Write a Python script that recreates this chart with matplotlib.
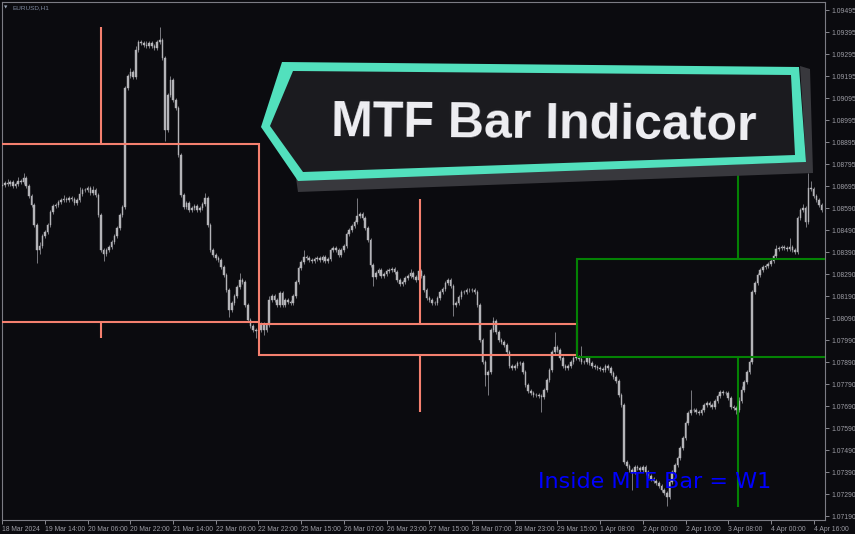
import matplotlib.pyplot as plt
from matplotlib.patches import Polygon, Rectangle

symbol = "EURUSD,H1"

# H1 candles: close of every bar, open = previous close
first_open = 1.08695
closes = [
    1.08700, 1.08709, 1.08704, 1.08713, 1.08695, 1.08704, 1.08718, 1.08713, 1.08732, 1.08695,
    1.08650, 1.08609, 1.08518, 1.08404, 1.08422, 1.08468, 1.08486, 1.08518, 1.08577, 1.08604,
    1.08609, 1.08622, 1.08631, 1.08636, 1.08631, 1.08641, 1.08636, 1.08618, 1.08631, 1.08659,
    1.08677, 1.08677, 1.08686, 1.08663, 1.08677, 1.08654, 1.08563, 1.08404, 1.08386, 1.08404,
    1.08418, 1.08441, 1.08468, 1.08504, 1.08563, 1.08600, 1.09141, 1.09195, 1.09213, 1.09190,
    1.09313, 1.09350, 1.09345, 1.09336, 1.09331, 1.09345, 1.09331, 1.09322, 1.09350, 1.09359,
    1.09277, 1.08950, 1.09109, 1.09177, 1.09086, 1.09050, 1.08836, 1.08654, 1.08600, 1.08618,
    1.08586, 1.08595, 1.08604, 1.08586, 1.08595, 1.08613, 1.08641, 1.08518, 1.08404, 1.08381,
    1.08368, 1.08359, 1.08327, 1.08291, 1.08222, 1.08131, 1.08163, 1.08195, 1.08236, 1.08268,
    1.08259, 1.08154, 1.08086, 1.08059, 1.08040, 1.08036, 1.08040, 1.08068, 1.08040, 1.08063,
    1.08177, 1.08195, 1.08177, 1.08154, 1.08209, 1.08154, 1.08177, 1.08168, 1.08163, 1.08195,
    1.08259, 1.08322, 1.08350, 1.08372, 1.08368, 1.08359, 1.08354, 1.08363, 1.08368, 1.08359,
    1.08372, 1.08354, 1.08363, 1.08404, 1.08413, 1.08404, 1.08381, 1.08404, 1.08422, 1.08477,
    1.08495, 1.08513, 1.08531, 1.08559, 1.08568, 1.08549, 1.08504, 1.08450, 1.08336, 1.08281,
    1.08300, 1.08313, 1.08286, 1.08295, 1.08309, 1.08313, 1.08318, 1.08304, 1.08268, 1.08249,
    1.08259, 1.08277, 1.08286, 1.08300, 1.08281, 1.08268, 1.08309, 1.08286, 1.08222, 1.08186,
    1.08177, 1.08163, 1.08163, 1.08186, 1.08213, 1.08227, 1.08254, 1.08268, 1.08240, 1.08154,
    1.08163, 1.08191, 1.08213, 1.08213, 1.08222, 1.08222, 1.08222, 1.08213, 1.08154, 1.07995,
    1.07895, 1.07836, 1.07850, 1.08040, 1.08081, 1.08031, 1.07995, 1.07986, 1.07972, 1.07941,
    1.07877, 1.07868, 1.07877, 1.07891, 1.07891, 1.07850, 1.07791, 1.07763, 1.07754, 1.07745,
    1.07745, 1.07741, 1.07736, 1.07768, 1.07813, 1.07858, 1.07941, 1.07963, 1.07950, 1.07913,
    1.07877, 1.07868, 1.07877, 1.07895, 1.07913, 1.07918, 1.07909, 1.07895, 1.07895, 1.07913,
    1.07891, 1.07877, 1.07872, 1.07868, 1.07863, 1.07858, 1.07877, 1.07868, 1.07845, 1.07827,
    1.07809, 1.07745, 1.07700, 1.07441, 1.07422, 1.07404, 1.07395, 1.07418, 1.07413, 1.07404,
    1.07418, 1.07395, 1.07377, 1.07363, 1.07354, 1.07345, 1.07331, 1.07313, 1.07300, 1.07281,
    1.07350, 1.07395, 1.07427, 1.07459, 1.07504, 1.07550, 1.07618, 1.07663, 1.07677, 1.07677,
    1.07668, 1.07663, 1.07677, 1.07700, 1.07709, 1.07700, 1.07691, 1.07718, 1.07741, 1.07759,
    1.07754, 1.07754, 1.07731, 1.07691, 1.07686, 1.07677, 1.07718, 1.07768, 1.07804, 1.07850,
    1.07895, 1.08213, 1.08254, 1.08291, 1.08313, 1.08327, 1.08331, 1.08341, 1.08354, 1.08377,
    1.08409, 1.08413, 1.08418, 1.08413, 1.08409, 1.08418, 1.08404, 1.08395, 1.08549, 1.08586,
    1.08595, 1.08531, 1.08686, 1.08681, 1.08650, 1.08631, 1.08609, 1.08586,
]

# wicks in pips above / below the body
upper_wick = [
    1, 1, 2, 1, 1, 1, 2, 1, 2, 1, 1, 1, 1, 1, 2, 1, 1, 1, 1, 1,
    1, 1, 1, 2, 1, 1, 1, 1, 1, 3, 1, 1, 1, 1, 2, 1, 1, 1, 1, 1,
    1, 1, 1, 1, 1, 1, 1, 1, 2, 1, 2, 1, 1, 1, 2, 1, 1, 1, 1, 6,
    1, 1, 1, 2, 1, 1, 1, 1, 1, 1, 1, 1, 1, 1, 1, 1, 2, 1, 1, 1,
    1, 1, 1, 1, 1, 1, 1, 1, 1, 3, 1, 1, 1, 1, 1, 1, 1, 1, 1, 1,
    2, 1, 1, 1, 1, 1, 1, 1, 1, 1, 1, 1, 1, 3, 1, 1, 1, 1, 1, 1,
    1, 1, 1, 1, 1, 1, 1, 1, 1, 1, 1, 1, 1, 8, 1, 1, 1, 1, 1, 1,
    1, 1, 1, 1, 1, 1, 1, 1, 1, 1, 1, 1, 1, 2, 1, 1, 2, 1, 1, 1,
    1, 1, 1, 1, 1, 1, 1, 1, 1, 1, 1, 1, 1, 1, 1, 1, 1, 1, 1, 1,
    1, 1, 1, 1, 2, 1, 1, 1, 1, 1, 1, 1, 1, 1, 1, 1, 1, 1, 1, 1,
    1, 1, 1, 1, 1, 1, 1, 7, 1, 1, 1, 1, 1, 1, 1, 1, 1, 6, 1, 1,
    1, 1, 1, 1, 1, 1, 1, 1, 1, 1, 1, 1, 1, 1, 1, 1, 1, 1, 1, 1,
    1, 1, 1, 1, 1, 1, 1, 1, 1, 1, 1, 1, 1, 1, 1, 1, 1, 1, 9, 1,
    1, 1, 1, 1, 1, 1, 1, 1, 1, 1, 1, 1, 1, 1, 1, 1, 2, 2, 1, 1,
    1, 1, 1, 1, 1, 1, 1, 1, 1, 1, 2, 1, 1, 1, 1, 4, 1, 1, 1, 1,
    2, 1, 7, 3, 1, 1, 1, 1,
]
lower_wick = [
    1, 1, 1, 1, 1, 1, 1, 1, 1, 1, 1, 1, 1, 6, 2, 1, 1, 1, 1, 1,
    1, 1, 1, 1, 1, 1, 1, 1, 1, 1, 1, 1, 1, 1, 1, 1, 1, 1, 3, 1,
    1, 1, 1, 1, 1, 1, 1, 1, 1, 1, 1, 1, 1, 1, 1, 1, 1, 1, 1, 1,
    1, 5, 1, 1, 1, 1, 1, 1, 1, 1, 1, 1, 1, 1, 1, 1, 1, 1, 1, 1,
    1, 1, 1, 1, 1, 3, 1, 1, 1, 1, 1, 1, 1, 1, 1, 3, 1, 1, 2, 1,
    1, 1, 1, 1, 1, 1, 1, 1, 1, 1, 1, 1, 1, 1, 1, 1, 1, 1, 1, 1,
    1, 1, 1, 1, 1, 1, 1, 1, 1, 1, 1, 1, 1, 1, 1, 1, 1, 1, 1, 4,
    1, 1, 1, 1, 1, 1, 1, 1, 1, 1, 1, 1, 1, 1, 1, 1, 1, 1, 1, 1,
    1, 1, 1, 1, 1, 1, 1, 1, 1, 5, 1, 1, 1, 1, 1, 1, 1, 1, 1, 1,
    1, 5, 9, 1, 1, 1, 1, 1, 1, 1, 1, 1, 1, 1, 1, 1, 1, 1, 1, 1,
    1, 1, 7, 1, 1, 1, 1, 1, 1, 1, 1, 1, 1, 1, 1, 1, 1, 1, 1, 1,
    1, 1, 1, 1, 1, 1, 1, 1, 1, 1, 1, 1, 1, 1, 1, 1, 8, 1, 1, 1,
    1, 1, 1, 1, 1, 1, 1, 1, 1, 4, 1, 1, 1, 1, 1, 1, 1, 1, 1, 1,
    1, 1, 1, 1, 1, 1, 1, 1, 1, 1, 1, 1, 1, 1, 1, 2, 1, 1, 1, 1,
    1, 1, 1, 1, 1, 1, 1, 1, 1, 1, 1, 1, 1, 1, 1, 1, 1, 1, 1, 1,
    1, 2, 1, 1, 1, 1, 1, 1,
]

time_labels = ["18 Mar 2024", "19 Mar 14:00", "20 Mar 06:00", "20 Mar 22:00", "21 Mar 14:00",
               "22 Mar 06:00", "22 Mar 22:00", "25 Mar 15:00", "26 Mar 07:00", "26 Mar 23:00",
               "27 Mar 15:00", "28 Mar 07:00", "28 Mar 23:00", "29 Mar 15:00", "1 Apr 08:00",
               "2 Apr 00:00", "2 Apr 16:00", "3 Apr 08:00", "4 Apr 00:00", "4 Apr 16:00"]
price_labels = ["1.09495", "1.09395", "1.09295", "1.09195", "1.09095", "1.08995", "1.08895",
                "1.08795", "1.08695", "1.08590", "1.08490", "1.08390", "1.08290", "1.08190",
                "1.08090", "1.07990", "1.07890", "1.07790", "1.07690", "1.07590", "1.07490",
                "1.07390", "1.07290", "1.07190"]

# W1 bars drawn by the indicator (bar index of start / middle / end)
week_start = [-3, 96.2, 215.3]
week_mid = [37.1, 156.4, 275.5]
week_end = [96.2, 215.3, 340]
week_open = [1.08886, 1.08066, 1.07916]
week_close = [1.08077, 1.07928, 1.08363]
week_high = [1.09419, 1.08636, 1.08757]
week_low = [1.08006, 1.07669, 1.07237]

bg = "#0b0b0f"
fg = "#9c9ca4"
candle_col = "#b4b4b8"
wick_col = "#8c8c92"
bear_col = "#f5806f"
bull_col = "#048204"

fig = plt.figure(figsize=(8.55, 5.34), dpi=100, facecolor=bg)
ax = fig.add_axes([2 / 855, 14 / 534, 823 / 855, 518 / 534], facecolor=bg)

# candles
opens = [first_open] + closes[:-1]
xs = list(range(len(closes)))
highs = [max(o, c) + u * 0.0001 for o, c, u in zip(opens, closes, upper_wick)]
lows = [min(o, c) - d * 0.0001 for o, c, d in zip(opens, closes, lower_wick)]
ax.vlines(xs, lows, highs, color=wick_col, linewidth=0.6, zorder=2)
ax.bar(xs, [abs(c - o) for o, c in zip(opens, closes)], bottom=[min(o, c) for o, c in zip(opens, closes)],
       width=0.6, color=candle_col, edgecolor=candle_col, linewidth=0.3, zorder=3)

# MTF bars
for s, m, e, o, c, h, l in zip(week_start, week_mid, week_end, week_open, week_close, week_high, week_low):
    col = bull_col if c > o else bear_col
    top, bot = max(o, c), min(o, c)
    ax.add_patch(Rectangle((s, bot), e - s, top - bot, fill=False, edgecolor=col, linewidth=1.5, zorder=4))
    ax.plot([m, m], [top, h], color=col, linewidth=1.5, zorder=4, solid_capstyle="butt")
    ax.plot([m, m], [bot, l], color=col, linewidth=1.5, zorder=4, solid_capstyle="butt")

ax.text(0.651, 0.062, "Inside MTF Bar = W1", transform=ax.transAxes, color="#0000ff",
        fontsize=16, family="DejaVu Sans", va="baseline", ha="left", zorder=6)

ax.set_xlim(-0.1, 308.25)
ax.set_ylim(1.07177, 1.095314)

ax.yaxis.tick_right()
ax.set_yticks([1.09495 - 0.001 * k for k in range(len(price_labels))])
ax.set_yticklabels(price_labels)
ax.set_xticks([16 * k for k in range(len(time_labels))])
ax.set_xticklabels(time_labels, ha="left")
for lab in ax.get_xticklabels() + ax.get_yticklabels():
    lab.set_family("Liberation Sans")
ax.tick_params(axis="both", colors=fg, labelsize=4.9, length=3, width=0.6, pad=1.5)
for sp in ax.spines.values():
    sp.set_color("#7c7c84")
    sp.set_linewidth(0.8)

fig.text(4 / 855, 1 - 7.5 / 534, "\u25bc", fontsize=3.2, color="#9aa4b4", va="center", family="DejaVu Sans")
fig.text(12 / 855, 1 - 7.5 / 534, symbol, fontsize=4.6, color="#7f8aa0", va="center", family="Liberation Sans")

# banner overlay
def fpt(pts):
    return [(x / 855, 1 - y / 534) for x, y in pts]

shadow = [(296, 178), (298, 192), (813, 173), (810, 69), (800, 66), (806, 162)]
outer = [(261, 127), (282, 62), (799, 67), (806, 162), (298, 181)]
inner = [(270, 126), (293, 71), (791, 75), (795, 155), (303, 172)]
fig.add_artist(Polygon(fpt(shadow), closed=True, transform=fig.transFigure, facecolor="#38383d",
                       edgecolor="none", zorder=10))
fig.add_artist(Polygon(fpt(outer), closed=True, transform=fig.transFigure, facecolor="#52e0bd",
                       edgecolor="none", zorder=11))
fig.add_artist(Polygon(fpt(inner), closed=True, transform=fig.transFigure, facecolor="#1b1b1f",
                       edgecolor="none", zorder=12))
fig.text(544 / 855, 1 - 140 / 534, "MTF Bar Indicator", fontsize=36, fontweight="bold",
         family="Liberation Sans", color="#f0f0f4", ha="center", va="baseline", rotation=-0.55,
         zorder=13)

fig.savefig("out.png", dpi=100, facecolor=bg)
